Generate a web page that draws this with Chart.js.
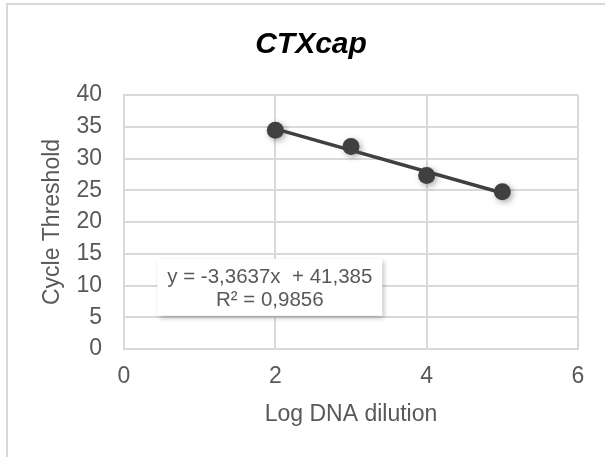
<!DOCTYPE html>
<html>
<head>
<meta charset="utf-8">
<script src="https://cdn.jsdelivr.net/npm/chart.js@4/dist/chart.umd.min.js"></script>
<style>
  html, body { margin: 0; padding: 0; background: #fff; }
  #wrap { position: relative; width: 605px; height: 457px; overflow: hidden; }
  #frame { position: absolute; left: 6px; top: 3px; width: 640px; height: 480px;
           border-top: 2px solid #d9d9d9; border-left: 2px solid #d9d9d9; }
  #chart { position: absolute; left: 0; top: 0; }
</style>
</head>
<body>
<div id="wrap">
  <div id="frame"></div>
  <canvas id="chart" width="605" height="457"></canvas>
</div>
<script>
// --- dados da curva padrão ---
const logDilution = [2, 3, 4, 5];
const cycleThreshold = [34.46, 31.90, 27.32, 24.77];

// linha de tendência (valores do rótulo)
const slope = -3.3637;
const intercept = 41.385;
const eqLines = ["y = -3,3637x  + 41,385", "R² = 0,9856"];

const chartTitle = "CTXcap";
const xTicks = [0, 2, 4, 6];
const FONT = "'Liberation Sans', Arial, sans-serif";
const GRID = "#d9d9d9";
const DARK = "#404040";
const TXT = "#595959";

const points = logDilution.map((x, i) => ({ x: x, y: cycleThreshold[i] }));
const xFirst = logDilution[0];
const xLast = logDilution[logDilution.length - 1];
const trend = [
  { x: xFirst, y: slope * xFirst + intercept },
  { x: xLast, y: slope * xLast + intercept }
];

// título desenhado à mão (centralizado na área do gráfico original)
const titlePlugin = {
  id: "titulo",
  afterDraw(chart) {
    const ctx = chart.ctx;
    ctx.save();
    ctx.fillStyle = "#000";
    ctx.font = "italic bold 30px " + FONT;
    ctx.textAlign = "center";
    ctx.textBaseline = "alphabetic";
    ctx.fillText(chartTitle, 311, 53);
    ctx.restore();
  }
};

// sombra suave nos marcadores
const shadowPlugin = {
  id: "markerShadow",
  beforeDatasetDraw(chart, args) {
    if (args.index !== 1) return;
    const ctx = chart.ctx;
    ctx.save();
    ctx.shadowColor = "rgba(0,0,0,0.35)";
    ctx.shadowBlur = 6;
    ctx.shadowOffsetX = 2;
    ctx.shadowOffsetY = 2;
  },
  afterDatasetDraw(chart, args) {
    if (args.index !== 1) return;
    chart.ctx.restore();
  }
};

// caixa com a equação da reta
const eqBox = {
  id: "eqBox",
  afterDatasetsDraw(chart) {
    const { ctx, scales } = chart;
    const bx = scales.x.getPixelForValue(0.44);
    const by = scales.y.getPixelForValue(14.2);
    const bw = 225, bh = 57;
    ctx.save();
    ctx.shadowColor = "rgba(0,0,0,0.3)";
    ctx.shadowBlur = 5;
    ctx.shadowOffsetX = 2;
    ctx.shadowOffsetY = 2;
    ctx.fillStyle = "#fff";
    ctx.fillRect(bx, by, bw, bh);
    ctx.restore();
    ctx.save();
    ctx.fillStyle = TXT;
    ctx.font = "20.5px " + FONT;
    ctx.textAlign = "center";
    ctx.textBaseline = "middle";
    ctx.fillText(eqLines[0], bx + bw / 2, by + 19);
    ctx.fillText(eqLines[1], bx + bw / 2, by + 42);
    ctx.restore();
  }
};

new Chart(document.getElementById("chart"), {
  type: "scatter",
  data: {
    datasets: [
      {
        label: "Linear",
        data: trend,
        showLine: true,
        borderColor: DARK,
        borderWidth: 3.5,
        pointRadius: 0
      },
      {
        label: chartTitle,
        data: points,
        backgroundColor: DARK,
        borderColor: DARK,
        pointRadius: 8.5,
        pointBorderWidth: 0
      }
    ]
  },
  options: {
    responsive: false,
    animation: false,
    events: [],
    layout: { padding: { left: 8, right: 27, top: 95, bottom: 0 } },
    plugins: {
      legend: { display: false },
      tooltip: { enabled: false },
      title: { display: false }
    },
    scales: {
      x: {
        type: "linear",
        min: 0,
        max: 6,
        afterBuildTicks: (s) => { s.ticks = xTicks.map(v => ({ value: v })); },
        afterFit: (s) => { s.height = 108; },
        grid: { color: GRID, lineWidth: 2, drawTicks: false },
        border: { color: GRID, width: 2 },
        ticks: { color: TXT, padding: 14, font: { family: FONT, size: 23 } },
        title: {
          display: true,
          text: "Log DNA dilution",
          color: TXT,
          font: { family: FONT, size: 23 },
          padding: { top: 0, bottom: 29 }
        }
      },
      y: {
        min: 0,
        max: 40,
        afterFit: (s) => { s.width = 116; },
        grid: { color: GRID, lineWidth: 2, drawTicks: false },
        border: { color: GRID, width: 2 },
        ticks: { stepSize: 5, color: TXT, padding: 22, font: { family: FONT, size: 23 } },
        title: {
          display: true,
          text: "Cycle Threshold",
          color: TXT,
          font: { family: FONT, size: 23 },
          padding: { top: 31, bottom: 0 }
        }
      }
    }
  },
  plugins: [shadowPlugin, eqBox, titlePlugin]
});
</script>
</body>
</html>
